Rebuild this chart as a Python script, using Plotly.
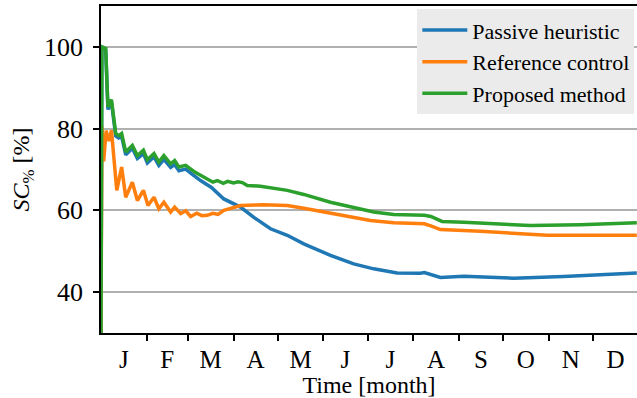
import plotly.graph_objects as go

# Time in days since 1 Jan, values in %
passive_days = [0, 0.6, 3.2, 4.7, 7.1, 10.0, 12.0, 14.0, 16.8, 21.3, 24.7, 28.8, 31.5, 36.0, 39.3, 42.7,
                47.3, 50.0, 52.9, 57.5, 62.0, 67.6, 75.0, 83.4, 94.7, 103.8, 115.1, 126.5, 137.7,
                155.8, 171.6, 185.2, 201.1, 216.9, 219.6, 224.0, 230.5, 246.3, 280.2, 314.1, 363.9]
passive_vals = [30.0, 100.0, 99.2, 84.7, 86.5, 78.2, 77.7, 78.1, 73.6, 75.2, 72.7, 73.9, 71.6, 73.1, 71.0, 72.5,
                70.5, 71.2, 69.7, 70.1, 68.8, 67.3, 65.6, 62.8, 60.8, 58.3, 55.5, 53.9, 51.8,
                49.0, 46.9, 45.7, 44.7, 44.6, 44.8, 44.3, 43.6, 43.9, 43.4, 43.8, 44.7]

reference_days = [0, 0.6, 1.8, 3.5, 5.5, 7.1, 10.7, 14.0, 16.8, 21.3, 24.7, 28.8, 31.9, 36.0, 39.3, 42.7,
                  47.3, 50.0, 54.1, 57.5, 60.9, 65.0, 68.5, 72.2, 76.0, 79.5, 83.4, 94.8, 110.6, 126.5,
                  137.7, 151.3, 167.2, 183.0, 198.8, 216.9, 219.6, 224.0, 230.5, 257.7, 280.2, 302.9, 363.9]
reference_vals = [30.0, 80.5, 72.0, 79.5, 77.0, 79.6, 64.9, 70.6, 63.2, 66.9, 62.4, 64.9, 61.2, 63.2, 60.4, 62.0,
                  59.6, 60.8, 59.2, 59.9, 58.5, 59.3, 58.7, 58.8, 59.3, 59.0, 60.0, 61.2, 61.4, 61.2,
                  60.5, 59.6, 58.5, 57.5, 57.0, 56.7, 56.7, 56.2, 55.3, 54.9, 54.5, 53.9, 53.9]

proposed_days = [0, 0.6, 3.2, 4.7, 7.1, 10.0, 12.0, 14.0, 16.8, 21.3, 24.7, 28.8, 31.5, 36.0, 39.3, 42.7,
                 47.3, 50.0, 52.9, 57.5, 64.0, 72.2, 76.0, 79.0, 83.0, 86.0, 90.0, 93.0, 96.0, 99.3,
                 108.3, 126.5, 137.7, 155.8, 171.6, 185.2, 198.8, 216.9, 219.6, 224.0, 231.6, 246.3,
                 291.5, 325.4, 363.9]
proposed_vals = [30.0, 100.0, 99.6, 85.3, 87.1, 78.8, 78.3, 78.8, 74.3, 75.9, 73.4, 74.7, 72.4, 73.9, 71.8, 73.4,
                 71.4, 72.2, 70.6, 71.0, 69.3, 67.5, 66.9, 67.3, 66.6, 67.1, 66.7, 67.0, 66.8, 66.1,
                 65.9, 64.9, 63.9, 62.0, 60.8, 59.6, 59.0, 58.8, 58.8, 58.5, 57.3, 57.1,
                 56.3, 56.5, 57.0]

series_names = ["Passive heuristic", "Reference control", "Proposed method"]
series_colors = ["#1f77b4", "#ff7f0e", "#2ca02c"]

month_labels = ["J", "F", "M", "A", "M", "J", "J", "A", "S", "O", "N", "D"]
month_starts = [0, 31, 59, 90, 120, 151, 181, 212, 243, 273, 304, 334, 365]
month_centers = [(month_starts[i] + month_starts[i + 1]) / 2 for i in range(12)]
month_bounds = month_starts[1:-1]

FONT = "Times New Roman, Liberation Serif, Tinos, DejaVu Serif"

fig = go.Figure()
for name, color, xs, ys in zip(series_names, series_colors,
                               [passive_days, reference_days, proposed_days],
                               [passive_vals, reference_vals, proposed_vals]):
    fig.add_trace(go.Scatter(x=xs, y=ys, mode="lines", name=name,
                             line=dict(color=color, width=3.5)))

fig.update_layout(
    width=637, height=398,
    margin=dict(l=101, r=0, t=6, b=65),
    paper_bgcolor="white", plot_bgcolor="white",
    font=dict(family=FONT, color="black", size=22),
    showlegend=True,
    legend=dict(
        x=0.995, y=0.99, xanchor="right", yanchor="top",
        bgcolor="#ebebeb", borderwidth=0,
        font=dict(family=FONT, size=22, color="black"),
        tracegroupgap=0, itemwidth=45,
    ),
    xaxis=dict(
        range=[0, 364], showgrid=False, zeroline=False,
        showline=True, linecolor="black", linewidth=1.8, mirror=True,
        tickmode="array", tickvals=month_centers, ticktext=month_labels,
        ticks="outside", ticklen=3, tickcolor="rgba(0,0,0,0)",
        tickfont=dict(family=FONT, size=25),
        minor=dict(tickmode="array", tickvals=month_bounds, ticks="outside",
                   ticklen=6, tickwidth=1.6, tickcolor="black", showgrid=False),
        title=dict(text="Time [month]", font=dict(family=FONT, size=24), standoff=1),
    ),
    yaxis=dict(
        range=[30, 110], showgrid=True, gridcolor="#b0b0b0", gridwidth=1.6,
        zeroline=False, showline=True, linecolor="black", linewidth=1.8, mirror=False,
        tickmode="array", tickvals=[40, 60, 80, 100],
        ticks="outside", ticklen=6, tickwidth=1.6, tickcolor="black",
        tickfont=dict(family=FONT, size=26), ticklabelstandoff=5,
        title=dict(text="<i>SC</i><sub>%</sub> [%]", font=dict(family=FONT, size=24), standoff=8),
    ),
)

fig.write_html("out.html")
